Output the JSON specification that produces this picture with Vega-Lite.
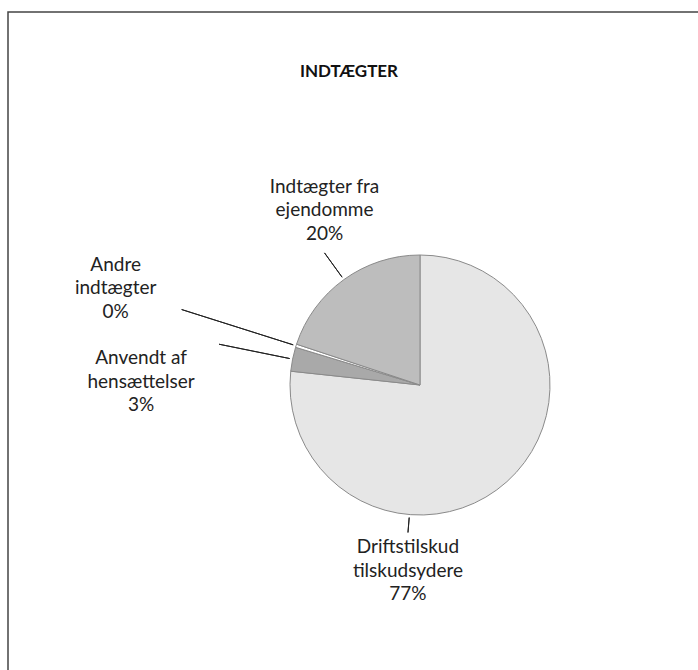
{
  "$schema": "https://vega.github.io/schema/vega-lite/v6.json",
  "width": 824,
  "height": 746,
  "autosize": {"type": "none"},
  "padding": {"left": 8, "top": 12, "right": -134, "bottom": -88},
  "background": "white",
  "view": {"stroke": "#444", "strokeWidth": 1.5},
  "config": {"view": {"stroke": "#444", "strokeWidth": 1.5}},
  "title": {"text": "INDTÆGTER", "font": "Lato", "fontSize": 17, "fontWeight": "bold", "color": "#111", "anchor": "middle", "frame": "group", "dx": -71, "offset": -69},
  "data": {"values": [
    {"category": "Driftstilskud tilskudsydere", "value": 77, "rank": 1, "label": "Driftstilskud\ntilskudsydere\n77%"},
    {"category": "Anvendt af hensættelser", "value": 3, "rank": 2, "label": "Anvendt af\nhensættelser\n3%"},
    {"category": "Andre indtægter", "value": 0.4, "rank": 3, "label": "Andre\nindtægter\n0%"},
    {"category": "Indtægter fra ejendomme", "value": 20, "rank": 4, "label": "Indtægter fra\nejendomme\n20%"}
  ]},
  "layer": [
    {
      "mark": {"type": "arc", "outerRadius": 130, "stroke": "#8a8a8a", "strokeWidth": 1},
      "encoding": {
        "theta": {"field": "value", "type": "quantitative", "stack": true},
        "order": {"field": "rank", "type": "quantitative"},
        "color": {"field": "category", "type": "nominal", "legend": null,
          "scale": {"domain": ["Driftstilskud tilskudsydere", "Anvendt af hensættelser", "Andre indtægter", "Indtægter fra ejendomme"],
                    "range": ["#e6e6e6", "#a9a9a9", "#ffffff", "#bdbdbd"]}}
      }
    },
    {
      "mark": {"type": "arc", "innerRadius": 133, "outerRadius": 163, "padAngle": 3, "fill": "transparent", "stroke": "#222", "strokeWidth": 1},
      "encoding": {
        "theta": {"field": "value", "type": "quantitative", "stack": true},
        "order": {"field": "rank", "type": "quantitative"},
        "detail": {"field": "category", "type": "nominal"},
        "strokeOpacity": {"condition": {"test": "datum.rank === 4", "value": 1}, "value": 0}
      }
    },
    {
      "mark": {"type": "arc", "innerRadius": 133, "outerRadius": 250, "padAngle": 3, "fill": "transparent", "stroke": "#222", "strokeWidth": 1},
      "encoding": {
        "theta": {"field": "value", "type": "quantitative", "stack": true},
        "order": {"field": "rank", "type": "quantitative"},
        "detail": {"field": "category", "type": "nominal"},
        "strokeOpacity": {"condition": {"test": "datum.rank === 3", "value": 1}, "value": 0}
      }
    },
    {
      "mark": {"type": "arc", "innerRadius": 133, "outerRadius": 205, "padAngle": 3, "fill": "transparent", "stroke": "#222", "strokeWidth": 1},
      "encoding": {
        "theta": {"field": "value", "type": "quantitative", "stack": true},
        "order": {"field": "rank", "type": "quantitative"},
        "detail": {"field": "category", "type": "nominal"},
        "strokeOpacity": {"condition": {"test": "datum.rank === 2", "value": 1}, "value": 0}
      }
    },
    {
      "transform": [{"filter": "datum.rank === 1"}],
      "mark": {"type": "arc", "innerRadius": 133, "outerRadius": 148, "fill": "transparent", "stroke": "#222", "strokeWidth": 1},
      "encoding": {"theta": {"datum": 51.5, "type": "quantitative"}, "theta2": {"datum": 51.5}}
    },
    {
      "mark": {"type": "text", "radius": 163, "dy": -66, "font": "Lato", "fontSize": 19, "lineBreak": "\n", "lineHeight": 23.5, "baseline": "middle", "align": "center", "color": "#222"},
      "encoding": {
        "theta": {"field": "value", "type": "quantitative", "stack": true},
        "order": {"field": "rank", "type": "quantitative"},
        "detail": {"field": "category", "type": "nominal"},
        "text": {"condition": {"test": "datum.rank === 4", "field": "label"}, "value": ""}
      }
    },
    {
      "mark": {"type": "text", "radius": 250, "dx": -66, "dy": -45, "font": "Lato", "fontSize": 19, "lineBreak": "\n", "lineHeight": 23.5, "baseline": "middle", "align": "center", "color": "#222"},
      "encoding": {
        "theta": {"field": "value", "type": "quantitative", "stack": true},
        "order": {"field": "rank", "type": "quantitative"},
        "detail": {"field": "category", "type": "nominal"},
        "text": {"condition": {"test": "datum.rank === 3", "field": "label"}, "value": ""}
      }
    },
    {
      "mark": {"type": "text", "radius": 205, "dx": -78, "dy": 14, "font": "Lato", "fontSize": 19, "lineBreak": "\n", "lineHeight": 23.5, "baseline": "middle", "align": "center", "color": "#222"},
      "encoding": {
        "theta": {"field": "value", "type": "quantitative", "stack": true},
        "order": {"field": "rank", "type": "quantitative"},
        "detail": {"field": "category", "type": "nominal"},
        "text": {"condition": {"test": "datum.rank === 2", "field": "label"}, "value": ""}
      }
    },
    {
      "transform": [{"filter": "datum.rank === 1"}],
      "mark": {"type": "text", "radius": 148, "dy": 14.5, "font": "Lato", "fontSize": 19, "lineBreak": "\n", "lineHeight": 23.5, "baseline": "middle", "align": "center", "color": "#222"},
      "encoding": {"theta": {"datum": 51.5, "type": "quantitative"}, "text": {"field": "label"}}
    }
  ]
}
